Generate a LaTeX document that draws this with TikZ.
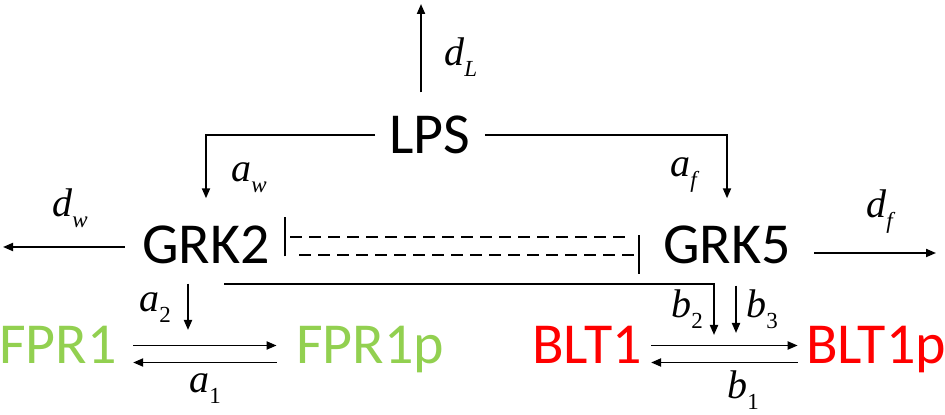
\documentclass[tikz,border=0pt]{standalone}
\usepackage{fontspec}
\newfontfamily\molfont{Carlito}
\newfontfamily\kfont{Liberation Serif}
\usetikzlibrary{arrows.meta}
\definecolor{fprgreen}{HTML}{92D050}
\definecolor{bltred}{HTML}{FF0000}
\newcommand{\klab}[2]{{\kfont\fontsize{20}{22}\selectfont\itshape #1\raisebox{-5.5pt}{\fontsize{11.5}{13}\selectfont #2}}}
\begin{document}
\begin{tikzpicture}[x=0.5pt,y=-0.5pt,
    mol/.style={font=\molfont\fontsize{29}{32}\selectfont,inner sep=0pt,text height=18.3pt,text depth=0pt},
    lab/.style={inner sep=0pt,anchor=base west},
    arr/.style={-{Triangle[length=5pt,width=4pt]},line width=0.95pt},
    inh/.style={-{Bar[width=19.5pt,line width=0.95pt]},line width=0.95pt,dash pattern=on 6pt off 3.5pt}]
  \useasboundingbox (0,0) rectangle (945,415);
  \draw
    (430,135) node[mol] (LPS) {LPS}
    (206,245) node[mol] (GRK2) {GRK2}
    (727,245) node[mol] (GRK5) {GRK5}
    (58,345.5) node[mol,text=fprgreen] (FPR1) {FPR1}
    (370,345.5) node[mol,text=fprgreen] (FPR1p) {FPR1p}
    (587,345.5) node[mol,text=bltred] (BLT1) {BLT1}
    (876,345.5) node[mol,text=bltred] (BLT1p) {BLT1p};
  \coordinate (dLend) at (421,4);
  \coordinate (dwend) at (3,247);
  \coordinate (dfend) at (936,253);
  \coordinate (a2tip) at (188,330);
  \coordinate (b2tip) at (714,335);
  \coordinate (b3tip) at (736,333);
  \begin{scope}[arr]
    \draw ([xshift=-4.5pt,yshift=12pt]LPS.north) to (dLend);
    \draw[shorten <=7pt,shorten >=14pt] (LPS.west) -| (GRK2.north);
    \draw[shorten <=7pt,shorten >=14pt] (LPS.east) -| (GRK5.north);
    \draw[shorten <=8.5pt] ([yshift=-1pt]GRK2.west) to (dwend);
    \draw[shorten <=11.5pt] ([yshift=-4pt]GRK5.east) to (dfend);
    \draw ([xshift=-9pt,yshift=-10pt]GRK2.south) to (a2tip);
    \draw ([xshift=9pt,yshift=-10pt]GRK2.south) -| (b2tip);
    \draw ([xshift=4.5pt,yshift=-11pt]GRK5.south) to (b3tip);
    \draw[shorten <=8pt,shorten >=9.5pt] (FPR1.east) to (FPR1p.west);
    \draw[shorten <=9.5pt,shorten >=8pt] ([yshift=-8.5pt]FPR1p.west) to ([yshift=-8.5pt]FPR1.east);
    \draw[shorten <=4.5pt,shorten >=4pt] (BLT1.east) to (BLT1p.west);
    \draw[shorten <=4pt,shorten >=4.5pt] ([yshift=-8.5pt]BLT1p.west) to ([yshift=-8.5pt]BLT1.east);
  \end{scope}
  \begin{scope}[inh]
    \draw[shorten <=19pt,shorten >=7pt] ([yshift=4pt]GRK5.west) to ([yshift=4pt]GRK2.east);
    \draw[shorten <=14.5pt,shorten >=11.5pt] ([yshift=-5pt]GRK2.east) to ([yshift=-5pt]GRK5.west);
  \end{scope}
  \node[lab] (dL) at (444,66) {\klab{d}{L}};
  \node[lab] (dw) at (52,217) {\klab{d}{w}};
  \node[lab] (df) at (866,218) {\klab{d}{f}};
  \node[lab] (aw) at (231,182) {\klab{a}{w}};
  \node[lab] (af) at (670,177) {\klab{a}{f}};
  \node[lab] (a2) at (139,312) {\klab{a}{\upshape 2}};
  \node[lab] (a1) at (189,393) {\klab{a}{\upshape 1}};
  \node[lab] (b2) at (671,318) {\klab{b}{\upshape 2}};
  \node[lab] (b3) at (746,318) {\klab{b}{\upshape 3}};
  \node[lab] (b1) at (727,399) {\klab{b}{\upshape 1}};
\end{tikzpicture}
\end{document}
